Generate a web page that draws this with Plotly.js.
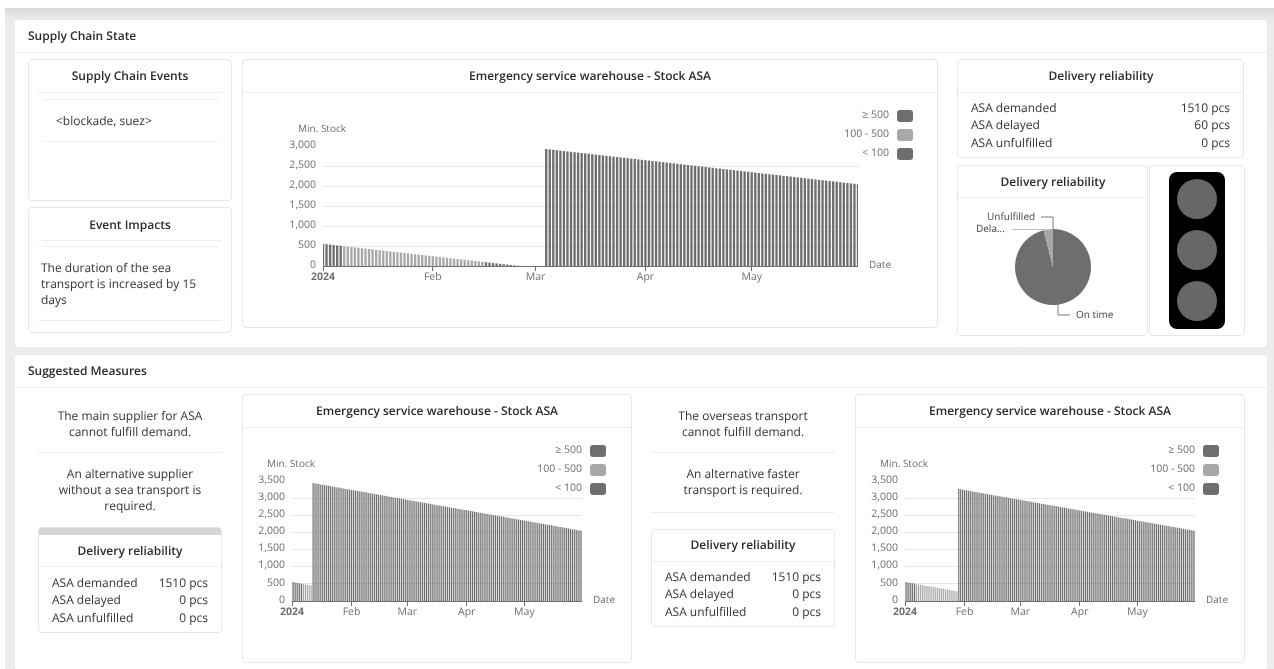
<!DOCTYPE html>
<html>
<head>
<meta charset="utf-8">
<title>Supply Chain Dashboard</title>
<script src="https://cdn.plot.ly/plotly-3.0.1.min.js"></script>
<style>
  html, body { margin: 0; padding: 0; background: #fff; }
  body { width: 1274px; height: 669px; overflow: hidden; position: relative;
         font-family: "Open Sans", sans-serif; color: #333; font-size: 12px;
         text-rendering: geometricPrecision; filter: grayscale(1); }
  svg text { text-rendering: geometricPrecision; }
  .abs, .bg, .section, .card, .line, .t, .plot, .sw { position: absolute; }
  .bg { left: 5px; top: 8px; width: 1269px; height: 661px;
        background: linear-gradient(#d9d9d9 0, #ebebeb 12px, #ededed 100%); }
  .section { background: #fff; border-radius: 3px; left: 15px; width: 1252px; }
  .card { background: #fff; border: 1px solid #e6e6e6; border-radius: 4px; box-sizing: border-box; }
  .line { height: 1px; background: #eeeeee; }
  .t { white-space: nowrap; line-height: 16px; }
  .c { transform: translateX(-50%); text-align: center; }
  .r { transform: translateX(-100%); text-align: right; }
  .h1, .h2 { font-weight: 600; font-size: 12px; color: #2b2b2b; }
  .sw { width: 16px; height: 12px; border-radius: 3px; }
  .lg { color: #6e6e6e; font-size: 10.5px; }
  .plot { pointer-events: none; }
  .plot .bars path { shape-rendering: auto !important; }
</style>
</head>
<body>
<div class="bg"></div>
<div class="section" style="top:20px;height:327px"></div>
<div class="section" style="top:355px;height:314px"></div>
<div id="page"></div>

<script>
// Daily minimum stock for the ASA part, 1 Jan to 31 May 2024
const stockCurrent = [
  555,545,535,525,515,505,495,485,475,465,455,445,435,425,415,405,395,385,375,365,
  355,345,335,325,315,305,295,285,275,265,255,245,235,225,215,205,195,185,175,165,
  155,145,135,125,115,105,95,85,75,65,55,45,35,25,15,5,0,0,0,0,0,0,0,
  2925,2915,2905,2895,2885,2875,2865,2855,2845,2835,
  2825,2815,2805,2795,2785,2775,2765,2755,2745,2735,
  2725,2715,2705,2695,2685,2675,2665,2655,2645,2635,
  2625,2615,2605,2595,2585,2575,2565,2555,2545,2535,
  2525,2515,2505,2495,2485,2475,2465,2455,2445,2435,
  2425,2415,2405,2395,2385,2375,2365,2355,2345,2335,
  2325,2315,2305,2295,2285,2275,2265,2255,2245,2235,
  2225,2215,2205,2195,2185,2175,2165,2155,2145,2135,
  2125,2115,2105,2095,2085,2075,2065,2055,2045
];
const stockAltSupplier = [
  555,545,535,525,515,505,495,485,475,465,455,
  3440,3430,3420,3410,3400,3390,3380,3370,3360,3350,3340,3330,3320,3310,3300,3290,3280,3270,3260,3250,
  3241,3231,3221,3211,3201,3191,3181,3171,3161,3151,3141,3131,3121,3111,3101,3091,3081,3071,3061,3051,
  3042,3032,3022,3012,3002,2992,2982,2972,2962,2952,2942,2932,2922,2912,2902,2892,2882,2872,2862,2852,
  2843,2833,2823,2813,2803,2793,2783,2773,2763,2753,2743,2733,2723,2713,2703,2693,2683,2673,2663,2653,
  2644,2634,2624,2614,2604,2594,2584,2574,2564,2554,2544,2534,2524,2514,2504,2494,2484,2474,2464,2454,
  2445,2435,2425,2415,2405,2395,2385,2375,2365,2355,2345,2335,2325,2315,2305,2295,2285,2275,2265,2255,
  2246,2236,2226,2216,2206,2196,2186,2176,2166,2156,2146,2136,2126,2116,2106,2096,2086,2076,2066,2056,
  2047
];
const stockFasterTransport = [
  555,545,535,525,515,505,495,485,475,465,455,445,435,425,415,405,395,385,375,365,355,345,335,325,315,305,295,285,
  3266,3256,3246,3236,3226,3216,3206,3196,3186,3176,3166,
  3157,3147,3137,3127,3117,3107,3097,3087,3077,3067,3057,
  3048,3038,3028,3018,3008,2998,2988,2978,2968,2958,2948,
  2939,2929,2919,2909,2899,2889,2879,2869,2859,2849,2839,
  2830,2820,2810,2800,2790,2780,2770,2760,2750,2740,2730,
  2721,2711,2701,2691,2681,2671,2661,2651,2641,2631,2621,
  2612,2602,2592,2582,2572,2562,2552,2542,2532,2522,2512,
  2503,2493,2483,2473,2463,2453,2443,2433,2423,2413,2403,
  2394,2384,2374,2364,2354,2344,2334,2324,2314,2304,2294,
  2285,2275,2265,2255,2245,2235,2225,2215,2205,2195,2185,
  2176,2166,2156,2146,2136,2126,2116,2106,2096,2086,2076,
  2067,2057,2047
];

const monthTicks = ['2024-01-01','2024-02-01','2024-03-01','2024-04-01','2024-05-01'];
const monthLabels = ['<b>2024</b>','Feb','Mar','Apr','May'];
const legendLabels = ['\u2265 500','100 - 500','< 100'];

const pieLabels = ['On time','Delayed','Unfulfilled'];
const pieValues = [1450,60,0];

const eventList = '&lt;blockade, suez&gt;';
const impactLines = ['The duration of the sea','transport is increased by 15','days'];
const reliabilityTop = [['ASA demanded','1510 pcs'],['ASA delayed','60 pcs'],['ASA unfulfilled','0 pcs']];
const reliabilityAlt = [['ASA demanded','1510 pcs'],['ASA delayed','0 pcs'],['ASA unfulfilled','0 pcs']];

const DARK = '#6e6e6e', LIGHT = '#a8a8a8', AXIS_TEXT = '#6e6e6e';
const FONT = '"Open Sans", sans-serif';

const page = document.getElementById('page');
function el(cls, style, html) {
  const d = document.createElement('div');
  d.className = cls; d.style.cssText = style;
  if (html !== undefined) d.innerHTML = html;
  page.appendChild(d);
  return d;
}
function box(l, t, w, h) { return `left:${l}px;top:${t}px;width:${w}px;height:${h}px;`; }
function hline(l, r, y) { el('line', `left:${l}px;top:${y}px;width:${r - l}px;`); }
// Text helper: y is the vertical centre of the line
function text(cls, x, y, s) { el('t ' + cls, `left:${x}px;top:${y - 8}px;`, s); }

function bandColor(v) { return v >= 500 ? DARK : v >= 100 ? LIGHT : DARK; }
function dayDates(n) {
  const out = [];
  for (let i = 0; i < n; i++) out.push(new Date(Date.UTC(2024, 0, 1 + i)).toISOString().slice(0, 10));
  return out;
}

// Stock chart: a card holding a bar plot whose axes sit at given pixel positions
function stockChart(card, axis, values, yMax, yStep, barDays) {
  el('card', box(card.l, card.t, card.w, card.h));
  hline(card.l + 1, card.l + card.w - 1, card.t + 33);
  text('h2 c', card.l + card.w / 2, card.t + 17, 'Emergency service warehouse - Stock ASA');
  const div = el('plot', box(card.l + 1, card.t + 34, card.w - 2, card.h - 35));
  const W = card.w - 2, H = card.h - 35;
  const ox = card.l + 1, oy = card.t + 34;
  const tickvals = [];
  for (let v = 0; v <= yMax; v += yStep) tickvals.push(v);
  Plotly.newPlot(div, [{
    type: 'bar',
    x: dayDates(values.length),
    y: values,
    width: barDays * 86400000,
    marker: { color: values.map(bandColor), line: { width: 0 } },
    hoverinfo: 'skip'
  }], {
    width: W, height: H, showlegend: false,
    paper_bgcolor: 'rgba(0,0,0,0)', plot_bgcolor: 'rgba(0,0,0,0)',
    font: { family: FONT, size: 10.5, color: AXIS_TEXT },
    margin: { l: axis.x0 - ox, r: ox + W - axis.x1, t: axis.yTop - oy, b: oy + H - axis.y0, pad: 0 },
    xaxis: {
      type: 'date', range: ['2024-01-01', '2024-05-31'],
      tickmode: 'array', tickvals: monthTicks, ticktext: monthLabels,
      ticks: 'outside', ticklen: 4, tickcolor: DARK, tickwidth: 1,
      ticklabelstandoff: -4,
      showline: true, linecolor: DARK, linewidth: 1,
      showgrid: false, zeroline: false, fixedrange: true
    },
    yaxis: {
      range: [0, yMax], tickmode: 'array', tickvals: tickvals,
      tickformat: ',d', ticks: 'outside', ticklen: 4, tickcolor: 'rgba(0,0,0,0)',
      ticklabelshift: -2,
      gridcolor: '#e6e6e6', gridwidth: 1, showline: false, zeroline: false, fixedrange: true
    },
    annotations: [
      { xref: 'paper', yref: 'paper', x: 1, y: 0, xshift: 9, yshift: 2, xanchor: 'left', yanchor: 'middle',
        text: 'Date', showarrow: false, font: { size: 10 } },
      { xref: 'paper', yref: 'paper', x: 0, y: 1, xshift: -27, yshift: 18, xanchor: 'left', yanchor: 'middle',
        text: 'Min. Stock', showarrow: false, font: { size: 10 } }
    ]
  }, { staticPlot: true, displayModeBar: false });
  // Threshold key in the top right corner of the card
  const swatches = [DARK, LIGHT, DARK];
  legendLabels.forEach((lab, i) => {
    const y = card.t + 56 + i * 19;
    text('lg r', axis.legendX, y, lab.replace('<', '&lt;'));
    el('sw', `left:${axis.legendX + 8}px;top:${y - 5}px;background:${swatches[i]};`);
  });
}

// Table card with the delivery figures
function rowsTable(l, r, ys, rows) {
  rows.forEach((row, i) => {
    text('', l, ys[i], row[0]);
    text('r', r, ys[i], row[1]);
  });
}

/* Section headers */
text('h1', 28, 36, 'Supply Chain State');
hline(15, 1267, 52);
text('h1', 28, 371, 'Suggested Measures');
hline(15, 1267, 387);

/* Supply chain events */
el('card', box(28, 59, 204, 142));
text('h2 c', 130, 76, 'Supply Chain Events');
hline(38, 222, 92);
hline(43, 218, 99);
text('', 56, 121, eventList);
hline(43, 218, 141);

/* Event impacts */
el('card', box(28, 207, 204, 126));
text('h2 c', 130, 225, 'Event Impacts');
hline(38, 222, 240);
hline(43, 218, 246);
impactLines.forEach((s, i) => text('', 41, 268 + i * 16, s));
hline(38, 222, 320);

/* Current stock chart */
stockChart({ l: 242, t: 59, w: 696, h: 269 },
  { x0: 323, x1: 858, y0: 266, yTop: 146, legendX: 889 }, stockCurrent, 3000, 500, 0.66);

/* Delivery reliability figures */
el('card', box(957, 59, 287, 99));
text('h2 c', 1101, 76, 'Delivery reliability');
hline(958, 1243, 92);
rowsTable(971, 1230, [108, 125, 143], reliabilityTop);

/* Delivery reliability pie */
el('card', box(957, 165, 191, 171));
text('h2 c', 1053, 182, 'Delivery reliability');
hline(958, 1147, 197);
const pieDiv = el('plot', box(958, 198, 189, 137));
Plotly.newPlot(pieDiv, [{
  type: 'pie', labels: pieLabels, values: pieValues, sort: false,
  direction: 'clockwise', rotation: 0, textinfo: 'none', hoverinfo: 'skip',
  marker: { colors: [DARK, LIGHT, DARK], line: { width: 0 } },
  domain: { x: [57 / 189, 133 / 189], y: [(137 - 107) / 137, (137 - 31) / 137] }
}], {
  width: 189, height: 137, showlegend: false,
  paper_bgcolor: 'rgba(0,0,0,0)',
  font: { family: FONT, size: 10, color: '#444' },
  margin: { l: 0, r: 0, t: 0, b: 0 },
  xaxis: { visible: false, range: [0, 189], fixedrange: true },
  yaxis: { visible: false, range: [137, 0], fixedrange: true },
  shapes: [
    { type: 'path', xref: 'x', yref: 'y', path: 'M 83 19 L 95 19 L 95 31', line: { color: '#7a7a7a', width: 1 } },
    { type: 'path', xref: 'x', yref: 'y', path: 'M 54 31.5 L 88 31.5', line: { color: '#bdbdbd', width: 1 } },
    { type: 'path', xref: 'x', yref: 'y', path: 'M 100 106 L 100 117 L 112 117', line: { color: '#7a7a7a', width: 1 } }
  ],
  annotations: [
    { x: 79, y: 18, xanchor: 'right', yanchor: 'middle', text: 'Unfulfilled', showarrow: false },
    { x: 49, y: 30, xanchor: 'right', yanchor: 'middle', text: 'Dela...', showarrow: false },
    { x: 116, y: 116, xanchor: 'left', yanchor: 'middle', text: 'On time', showarrow: false }
  ]
}, { staticPlot: true, displayModeBar: false });

/* Status light */
el('card', box(1149, 165, 96, 171));
el('abs', box(1169, 172, 56, 157) + 'background:#000;border-radius:8px;');
[199, 250, 301].forEach(cy => el('abs', box(1177, cy - 20, 40, 40) + 'background:#676767;border-radius:50%;'));

/* Measure 1: alternative supplier */
['The main supplier for ASA', 'cannot fulfill demand.'].forEach((s, i) => text('c', 130, 416 + i * 16, s));
hline(38, 222, 452);
['An alternative supplier', 'without a sea transport is', 'required.'].forEach((s, i) => text('c', 130, 474 + i * 16, s));
el('card', box(38, 527, 184, 106));
el('abs', box(39, 528, 182, 7) + 'background:#d6d6d6;border-radius:3px 3px 0 0;');
text('h2 c', 130, 551, 'Delivery reliability');
hline(39, 221, 566);
rowsTable(52, 208, [583, 600, 618], reliabilityAlt);

stockChart({ l: 242, t: 394, w: 390, h: 269 },
  { x0: 292, x1: 582, y0: 601, yTop: 481, legendX: 582 }, stockAltSupplier, 3500, 500, 0.62);

/* Measure 2: faster transport */
['The overseas transport', 'cannot fulfill demand.'].forEach((s, i) => text('c', 743, 416 + i * 16, s));
hline(651, 835, 452);
['An alternative faster', 'transport is required.'].forEach((s, i) => text('c', 743, 474 + i * 16, s));
hline(651, 835, 512);
el('card', box(651, 529, 184, 98));
text('h2 c', 743, 545, 'Delivery reliability');
hline(652, 834, 561);
rowsTable(665, 821, [577, 594, 612], reliabilityAlt);

stockChart({ l: 855, t: 394, w: 390, h: 269 },
  { x0: 905, x1: 1195, y0: 601, yTop: 481, legendX: 1195 }, stockFasterTransport, 3500, 500, 0.62);
</script>
</body>
</html>
